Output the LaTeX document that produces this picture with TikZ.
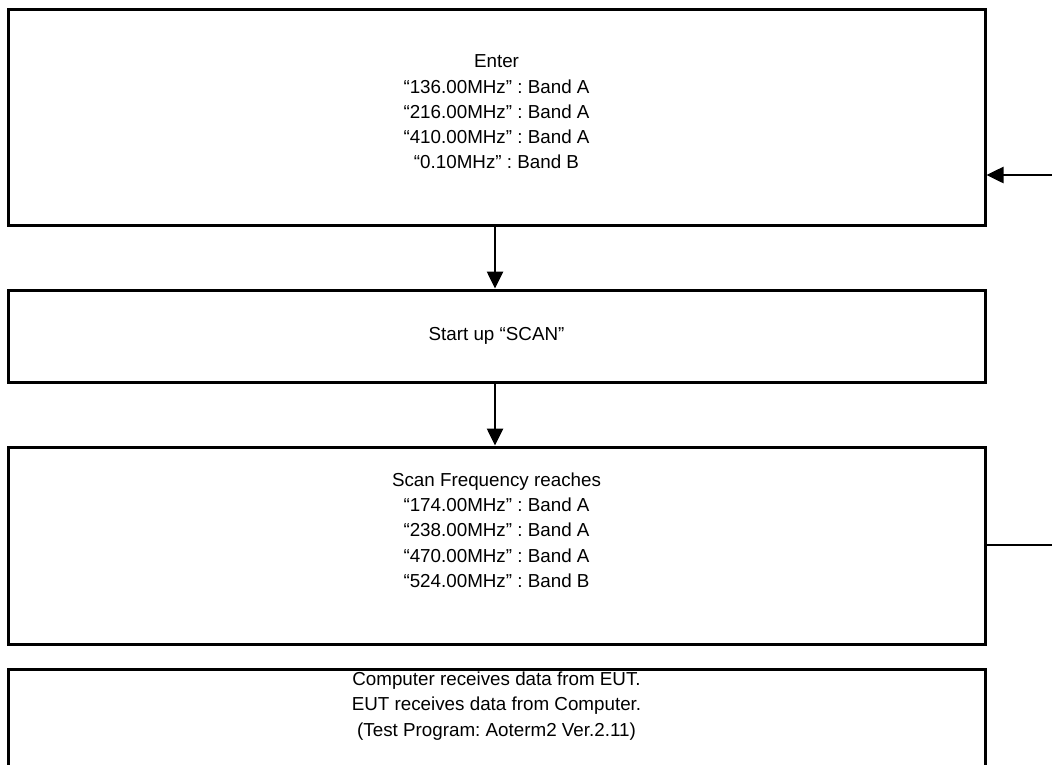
\documentclass[tikz,border=0pt]{standalone}
\usepackage{fontspec}
\setmainfont{Liberation Sans}
\usetikzlibrary{arrows.meta}
\frenchspacing
\begin{document}
\begin{tikzpicture}[x=1pt,y=-1pt,
  box/.style={draw,line width=3pt,minimum width=977pt,inner sep=0pt,anchor=center},
  txt/.style={align=center,font=\fontsize{18.8}{25.3}\selectfont,inner sep=0pt},
  conn/.style={line width=2.6pt,-{Triangle[length=17pt,width=16pt]}},
  plain/.style={line width=3pt}]
\useasboundingbox (0,0) rectangle (1052,764);
\clip (0,0) rectangle (1052,764);
\node[box,minimum height=216pt] (b1) at (496.5,117) {};
\node[box,minimum height=92pt] (b2) at (496.5,336) {};
\node[box,minimum height=197pt] (b3) at (496.5,545.5) {};
\node[box,minimum height=160pt] (b4) at (496.5,749) {};
\node[txt] (t1) at (496.5,112) {Enter\\“136.00MHz” : Band A\\“216.00MHz” : Band A\\“410.00MHz” : Band A\\“0.10MHz” : Band B};
\node[txt] (t2) at (496.5,336) {Start up “SCAN”};
\node[txt] (t3) at (496.5,530) {Scan Frequency reaches\\“174.00MHz” : Band A\\“238.00MHz” : Band A\\“470.00MHz” : Band A\\“524.00MHz” : Band B};
\node[txt] (t4) at (496.5,706) {Computer receives data from EUT.\\EUT receives data from Computer.\\(Test Program: Aoterm2 Ver.2.11)};
\coordinate (r1) at (1062,545);
\coordinate (r2) at (1062,175);
\draw[conn] (b1.south -| 495,0) -- (b2.north -| 495,0);
\draw[conn] (b2.south -| 495,0) -- (b3.north -| 495,0);
\draw[conn] (b3.east |- r1) -- (r1) -- (r2) -- (b1.east |- r2);
\end{tikzpicture}
\end{document}
